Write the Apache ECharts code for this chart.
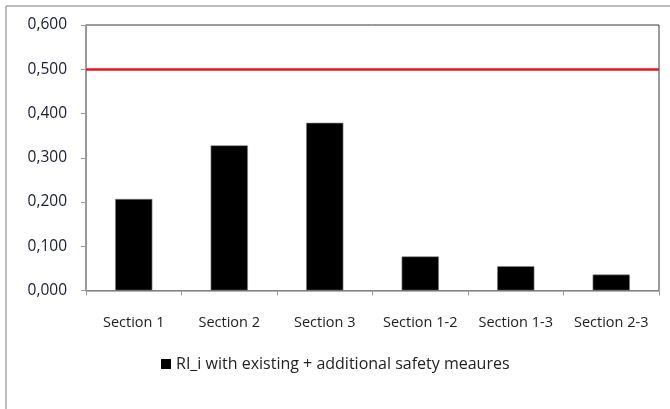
<!DOCTYPE html>
<html>
<head>
<meta charset="utf-8">
<script src="https://cdn.jsdelivr.net/npm/echarts@6/dist/echarts.min.js"></script>
<style>html,body{margin:0;padding:0;background:#fff;}#c{width:670px;height:409px;}</style>
</head>
<body>
<div id="c"></div>
<script>
var categories = ['Section 1', 'Section 2', 'Section 3', 'Section 1-2', 'Section 1-3', 'Section 2-3'];
var values = [0.207, 0.328, 0.379, 0.077, 0.055, 0.036];
var threshold = 0.5;
var seriesName = 'RI_i with existing + additional safety meaures';

var chart = echarts.init(document.getElementById('c'));
var font = 'Open Sans';
chart.setOption({
  animation: false,
  backgroundColor: '#fff',
  graphic: [
    {type: 'line', shape: {x1: 6, y1: 6, x2: 670, y2: 6}, style: {stroke: '#a6a6a6', lineWidth: 1.5}},
    {type: 'line', shape: {x1: 6, y1: 6, x2: 6, y2: 409}, style: {stroke: '#a6a6a6', lineWidth: 1.5}}
  ],
  grid: {left: 86, top: 25, width: 573, height: 265.5, show: true, borderColor: '#3a3a3a', borderWidth: 1, backgroundColor: 'transparent'},
  legend: {
    data: [seriesName], left: 156, top: 351, itemWidth: 10, itemHeight: 10, itemGap: 5,
    icon: 'rect', itemStyle: {borderWidth: 0},
    textStyle: {fontFamily: font, fontSize: 16, color: '#222'}
  },
  xAxis: {
    type: 'category', data: categories,
    axisLine: {lineStyle: {color: '#9a9a9a', width: 1.5}},
    axisTick: {show: true, length: 5, lineStyle: {color: '#9a9a9a'}},
    axisLabel: {fontFamily: font, fontSize: 14.5, color: '#222', margin: 25, interval: 0}
  },
  yAxis: {
    type: 'value', min: 0, max: 0.6, interval: 0.1,
    splitLine: {show: false},
    axisLine: {show: true, lineStyle: {color: '#9a9a9a', width: 1.5}},
    axisTick: {show: true, length: 5, lineStyle: {color: '#9a9a9a'}},
    axisLabel: {fontFamily: font, fontSize: 15.5, color: '#1a1a3a', margin: 19,
      formatter: function (v) { return v.toFixed(3).replace('.', ','); }}
  },
  series: [{
    name: seriesName, type: 'bar', data: values, barWidth: '39%',
    itemStyle: {color: '#000', borderColor: '#888', borderWidth: 0.6},
    markLine: {
      silent: true, symbol: 'none', label: {show: false},
      lineStyle: {color: '#e8141e', width: 2.5, type: 'solid'},
      data: [{yAxis: threshold}]
    }
  }]
});
</script>
</body>
</html>
